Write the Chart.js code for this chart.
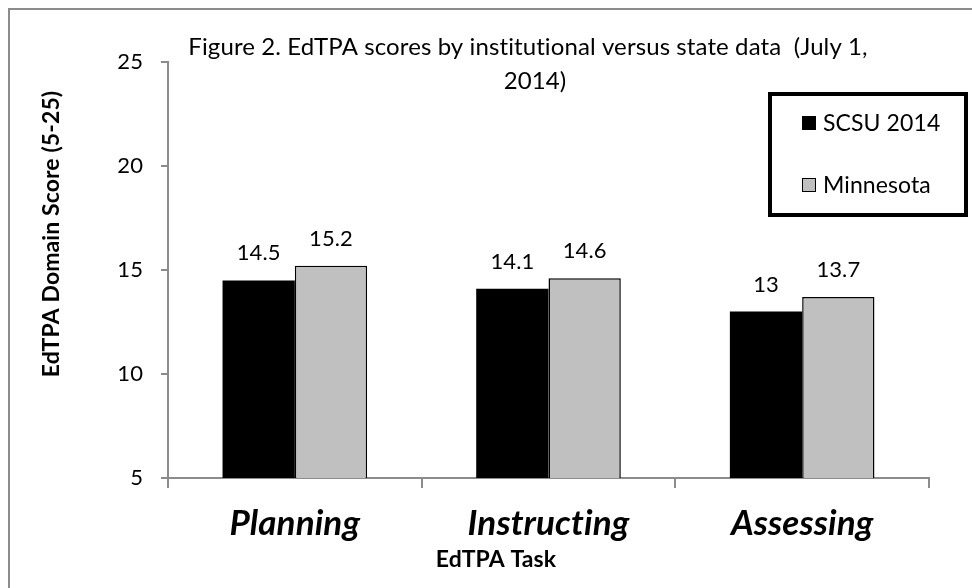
<!DOCTYPE html>
<html lang="en">
<head>
<meta charset="UTF-8">
<title>EdTPA scores</title>
<script src="https://cdn.jsdelivr.net/npm/chart.js"></script>
<style>
  body { margin: 0; background: #fff; }
  .quadro { position: relative; width: 972px; height: 588px; overflow: hidden; }
  .quadro canvas { position: absolute; left: 0; top: 0; }
  .borda { position: absolute; left: 8px; top: 8px; right: -4px; bottom: -4px;
           border-left: 2px solid #8c8c8c; border-top: 2px solid #8c8c8c; pointer-events: none; }
</style>
</head>
<body>
<div class="quadro">
  <canvas id="grafico" width="972" height="588"></canvas>
  <div class="borda"></div>
</div>
<script>
// data
const tarefas = ["Planning", "Instructing", "Assessing"];
const scsu2014 = [14.5, 14.1, 13];
const minnesota = [15.2, 14.6, 13.7];
const ticksY = [5, 10, 15, 20, 25];
const titulo = ["Figure 2. EdTPA scores by institutional versus state data  (July 1,", "2014)"];
const tituloY = "EdTPA Domain Score (5-25)";
const tituloX = "EdTPA Task";

const FONTE = "Lato, 'Open Sans', sans-serif";
const CINZA = "#c0c0c0";

// title, axis titles, legend box and value labels
const extras = {
  id: "extras",
  beforeDraw(chart) {
    // a tiny letter spacing keeps Lato from joining "ti" into a ligature
    chart.ctx.letterSpacing = "0.1px";
  },
  afterDatasetsDraw(chart) {
    const ctx = chart.ctx;
    ctx.save();
    ctx.fillStyle = "#000";
    ctx.textAlign = "center";
    ctx.font = "22px " + FONTE;
    chart.data.datasets.forEach((ds, i) => {
      chart.getDatasetMeta(i).data.forEach((barra, j) => {
        ctx.fillText(String(ds.data[j]), barra.x, barra.y - 20);
      });
    });
    ctx.restore();
  },
  afterDraw(chart) {
    const ctx = chart.ctx;
    ctx.save();
    ctx.fillStyle = "#000";
    ctx.textAlign = "center";
    ctx.textBaseline = "alphabetic";

    ctx.font = "24px " + FONTE;
    ctx.fillText(titulo[0], 528, 55);
    ctx.fillText(titulo[1], 535, 89);

    ctx.font = "bold 23px " + FONTE;
    ctx.fillText(tituloX, 496, 567);

    ctx.save();
    ctx.translate(52, 234);
    ctx.rotate(-Math.PI / 2);
    ctx.textBaseline = "middle";
    ctx.fillText(tituloY, 0, 0);
    ctx.restore();

    // legend
    ctx.lineWidth = 4;
    ctx.strokeStyle = "#000";
    ctx.strokeRect(770, 94, 196, 121);
    const itens = chart.data.datasets;
    const linhas = [123, 185];
    ctx.textAlign = "left";
    ctx.textBaseline = "middle";
    ctx.font = "23px " + FONTE;
    itens.forEach((ds, i) => {
      const y = linhas[i];
      ctx.fillStyle = ds.backgroundColor;
      ctx.fillRect(802, y - 7, 14, 14);
      ctx.lineWidth = 1;
      ctx.strokeStyle = "#000";
      ctx.strokeRect(802.5, y - 6.5, 13, 13);
      ctx.fillStyle = "#000";
      ctx.fillText(ds.label, 823, y + 1);
    });
    ctx.restore();
  }
};

new Chart(document.getElementById("grafico"), {
  type: "bar",
  data: {
    labels: tarefas,
    datasets: [
      {
        label: "SCSU 2014",
        data: scsu2014,
        backgroundColor: "#000000",
        borderColor: "#000000",
        borderWidth: 0
      },
      {
        label: "Minnesota",
        data: minnesota,
        backgroundColor: CINZA,
        borderColor: "#000000",
        borderWidth: { top: 1.5, right: 1.5, left: 1.5, bottom: 0 }
      }
    ]
  },
  options: {
    responsive: false,
    animation: false,
    categoryPercentage: 0.57,
    barPercentage: 1.0,
    layout: { padding: { left: 0, right: 43, top: 62, bottom: 0 } },
    plugins: {
      legend: { display: false },
      title: { display: false },
      tooltip: { enabled: false }
    },
    scales: {
      x: {
        afterFit(eixo) { eixo.height = 110; },
        border: { color: "#8c8c8c", width: 2 },
        grid: { display: true, drawOnChartArea: false, offset: true, tickLength: 10, color: "#8c8c8c", lineWidth: 2 },
        ticks: {
          color: "#000",
          padding: 15,
          font: { family: FONTE, size: 35, weight: "bold", style: "italic" }
        }
      },
      y: {
        min: 5,
        max: 25,
        afterFit(eixo) { eixo.width = 168; },
        afterBuildTicks(eixo) { eixo.ticks = ticksY.map(v => ({ value: v })); },
        border: { color: "#8c8c8c", width: 2 },
        grid: { display: true, drawOnChartArea: false, tickLength: 7, color: "#8c8c8c", lineWidth: 2 },
        ticks: {
          color: "#000",
          padding: 18,
          font: { family: FONTE, size: 22 }
        }
      }
    }
  },
  plugins: [extras]
});
</script>
</body>
</html>
